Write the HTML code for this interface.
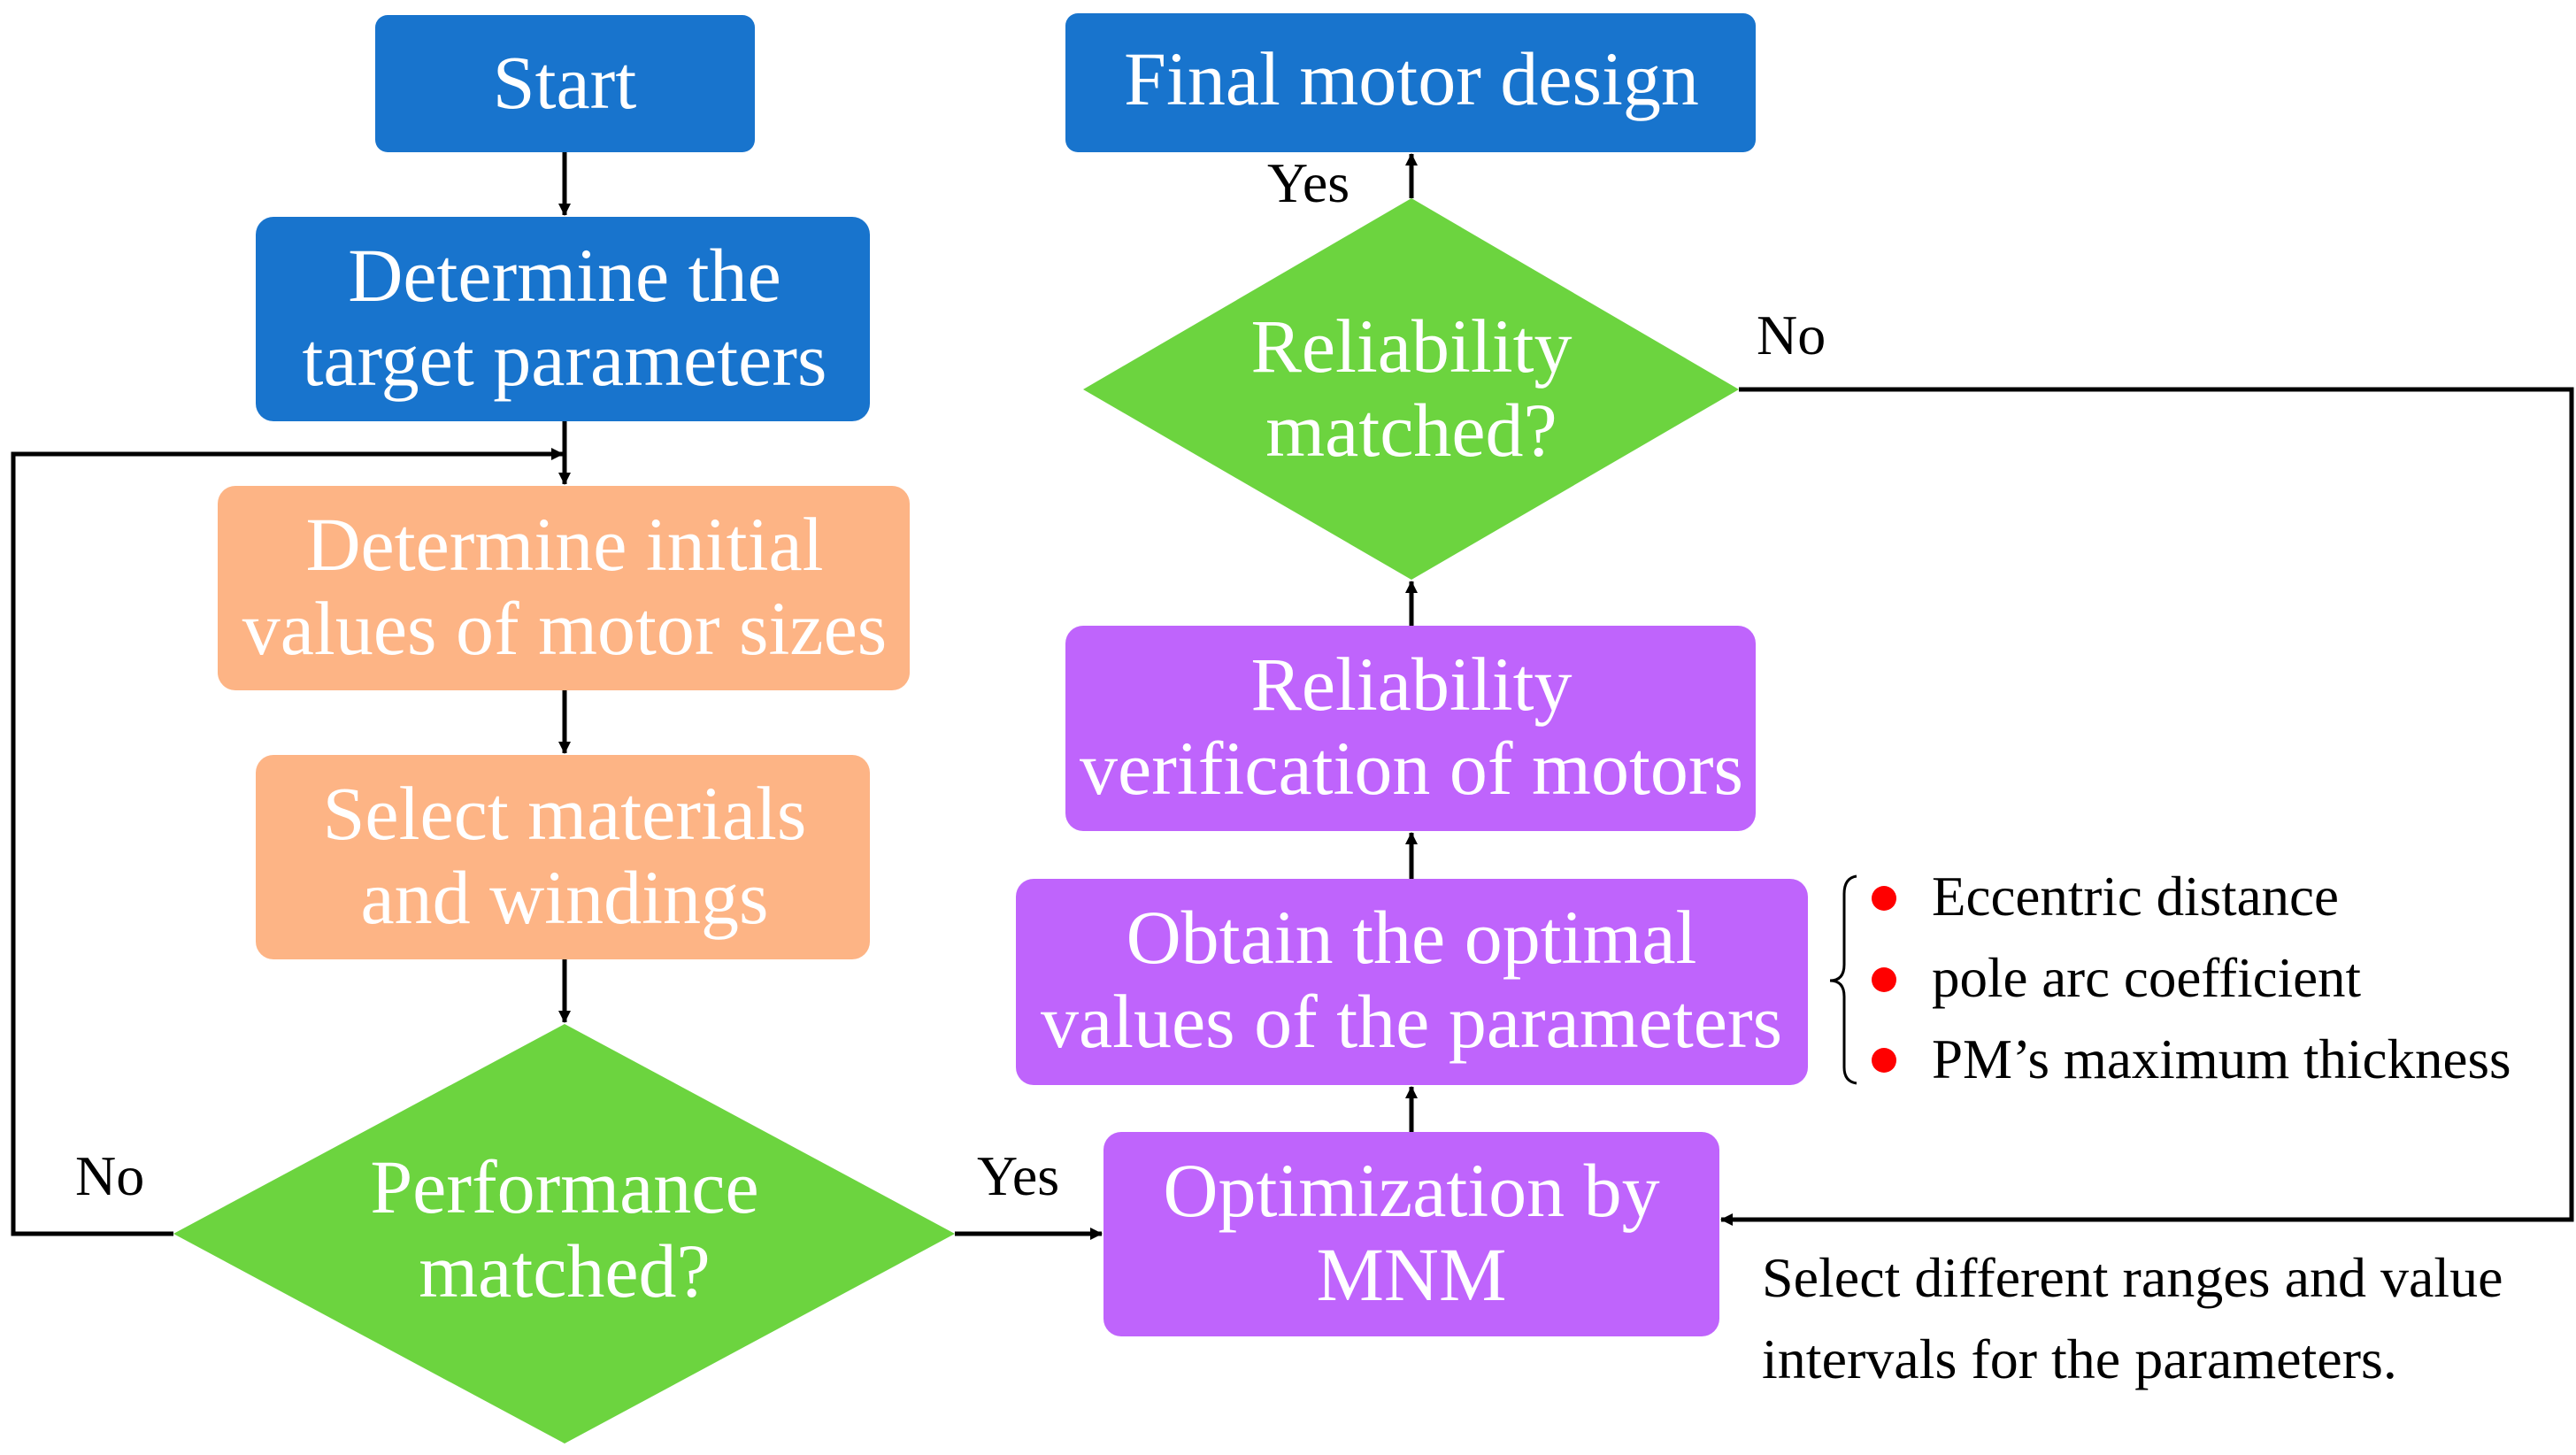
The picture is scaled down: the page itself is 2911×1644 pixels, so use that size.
<!DOCTYPE html>
<html><head><meta charset="utf-8"><style>
html,body{margin:0;padding:0;background:#fff;}
svg{display:block;}
text{font-family:"Liberation Serif",serif;}
.n{fill:#fff;font-size:86px;text-anchor:middle;}
.l{fill:#000;font-size:64px;}
.s{fill:#000;font-size:63px;}
.t{fill:#000;font-size:64px;}
</style></head><body>
<svg width="2911" height="1644" viewBox="0 0 2911 1644" xmlns="http://www.w3.org/2000/svg">
<defs>
<marker id="a" markerWidth="14" markerHeight="14" refX="13" refY="7" orient="auto" markerUnits="userSpaceOnUse" viewBox="0 0 14 14">
<path d="M0,0 L14,7 L0,14 z" fill="#000"/></marker>
</defs>
<g stroke="#000" stroke-width="5" fill="none">
<line x1="638" y1="172" x2="638" y2="243" marker-end="url(#a)"/>
<line x1="638" y1="476" x2="638" y2="547" marker-end="url(#a)"/>
<line x1="638" y1="780" x2="638" y2="851" marker-end="url(#a)"/>
<line x1="638" y1="1084" x2="638" y2="1155" marker-end="url(#a)"/>
<polyline points="196,1394 15,1394 15,513 636,513" marker-end="url(#a)"/>
<line x1="1079" y1="1394" x2="1245" y2="1394" marker-end="url(#a)"/>
<line x1="1595" y1="1279" x2="1595" y2="1228" marker-end="url(#a)"/>
<line x1="1595" y1="993" x2="1595" y2="941" marker-end="url(#a)"/>
<line x1="1595" y1="707" x2="1595" y2="657" marker-end="url(#a)"/>
<line x1="1595" y1="224" x2="1595" y2="174" marker-end="url(#a)"/>
<polyline points="1965,440 2906,440 2906,1378 1945,1378" marker-end="url(#a)"/>
</g>
<rect x="424" y="17" width="429" height="155" rx="14" fill="#1874CD"/>
<text class="n" x="638" y="122">Start</text>
<rect x="289" y="245" width="694" height="231" rx="20" fill="#1874CD"/>
<text class="n" x="638" y="340">Determine the</text>
<text class="n" x="638" y="435">target parameters</text>
<rect x="246" y="549" width="782" height="231" rx="20" fill="#FDB485"/>
<text class="n" x="638" y="644">Determine initial</text>
<text class="n" x="638" y="739">values of motor sizes</text>
<rect x="289" y="853" width="694" height="231" rx="20" fill="#FDB485"/>
<text class="n" x="638" y="948">Select materials</text>
<text class="n" x="638" y="1043">and windings</text>
<polygon points="638,1157 1079,1394 638,1631 196,1394" fill="#6CD43F"/>
<text class="n" x="638" y="1370">Performance</text>
<text class="n" x="638" y="1465">matched?</text>
<text class="l" x="85" y="1350">No</text>
<text class="l" x="1104" y="1350">Yes</text>
<rect x="1247" y="1279" width="696" height="231" rx="20" fill="#BF64FC"/>
<text class="n" x="1595" y="1374">Optimization by</text>
<text class="n" x="1595" y="1469">MNM</text>
<rect x="1148" y="993" width="895" height="233" rx="20" fill="#BF64FC"/>
<text class="n" x="1595" y="1088">Obtain the optimal</text>
<text class="n" x="1595" y="1183">values of the parameters</text>
<rect x="1204" y="707" width="780" height="232" rx="20" fill="#BF64FC"/>
<text class="n" x="1595" y="802">Reliability</text>
<text class="n" x="1595" y="897">verification of motors</text>
<polygon points="1595,224 1965,440 1595,655 1224,440" fill="#6CD43F"/>
<text class="n" x="1595" y="420">Reliability</text>
<text class="n" x="1595" y="515">matched?</text>
<rect x="1204" y="15" width="780" height="157" rx="14" fill="#1874CD"/>
<text class="n" x="1595" y="118">Final motor design</text>
<text class="l" x="1432" y="228">Yes</text>
<text class="l" x="1985" y="400">No</text>
<path d="M2098,990 Q2084,992 2084,1010 L2084,1090 Q2084,1108 2068,1108 Q2084,1108 2084,1126 L2084,1206 Q2084,1222 2098,1224" stroke="#000" stroke-width="3" fill="none"/>
<circle cx="2129" cy="1015" r="14" fill="#F00"/>
<circle cx="2129" cy="1107" r="14" fill="#F00"/>
<circle cx="2129" cy="1198" r="14" fill="#F00"/>
<text class="s" x="2183" y="1034">Eccentric distance</text>
<text class="s" x="2183" y="1126">pole arc coefficient</text>
<text class="s" x="2183" y="1218">PM’s maximum thickness</text>
<text class="t" x="1991" y="1465">Select different ranges and value</text>
<text class="t" x="1991" y="1557">intervals for the parameters.</text>
</svg>
</body></html>
